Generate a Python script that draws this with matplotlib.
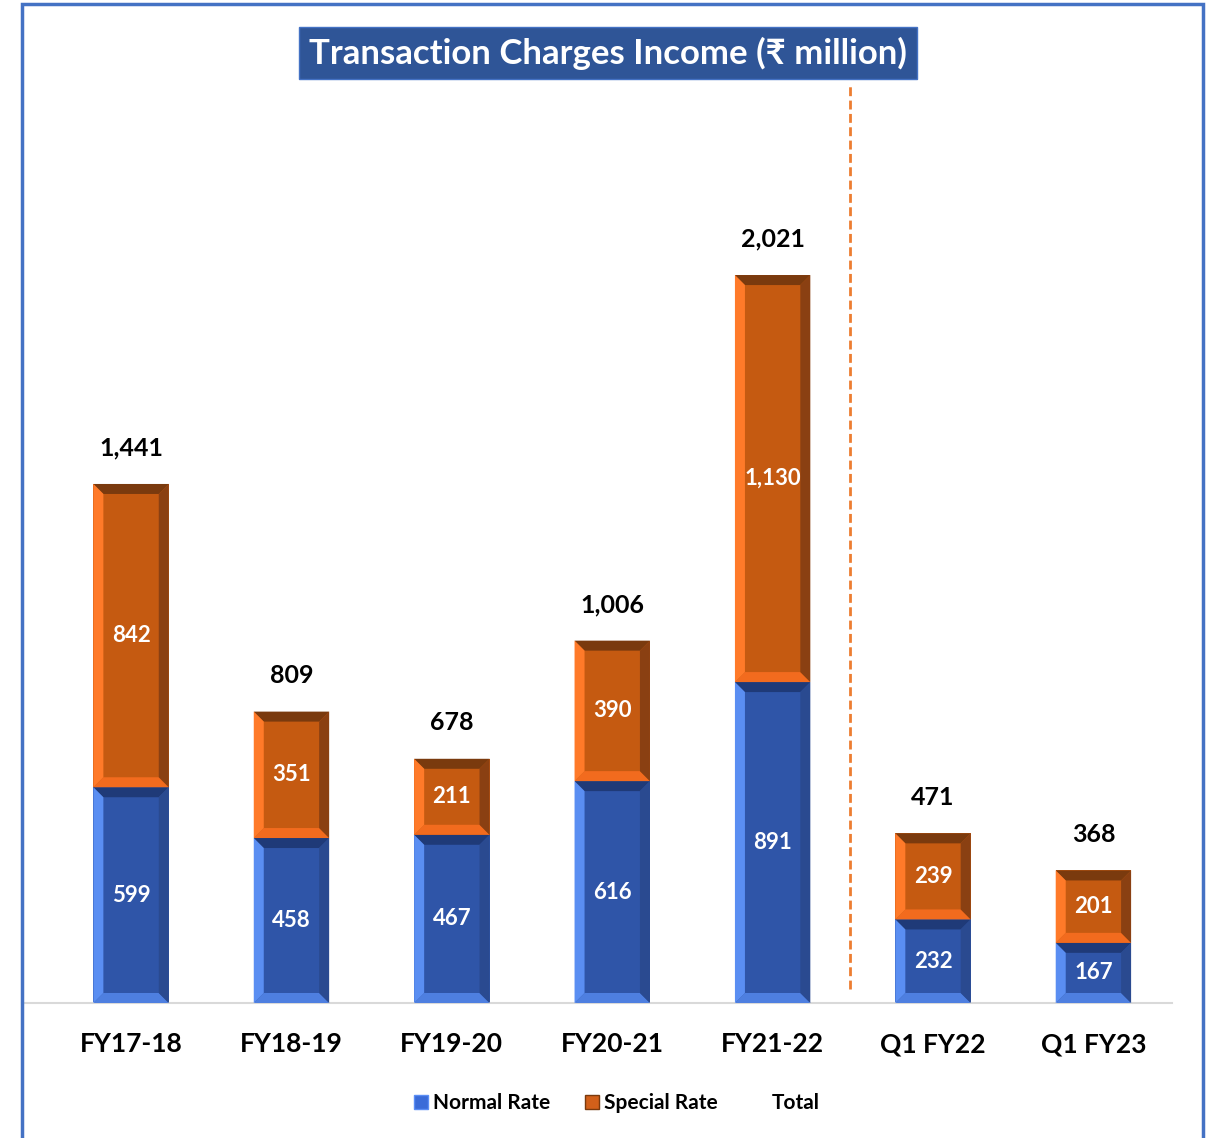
import matplotlib
matplotlib.use("Agg")
import matplotlib.pyplot as plt
from matplotlib.patches import Rectangle, Polygon, Patch
import numpy as np

plt.rcParams['font.family'] = ['Lato', 'Open Sans', 'DejaVu Sans']

categories = ["FY17-18", "FY18-19", "FY19-20", "FY20-21", "FY21-22", "Q1 FY22", "Q1 FY23"]
normal_rate = [599, 458, 467, 616, 891, 232, 167]
special_rate = [842, 351, 211, 390, 1130, 239, 201]
totals = [1441, 809, 678, 1006, 2021, 471, 368]

W, H = 1214, 1138
fig = plt.figure(figsize=(W / 100, H / 100), dpi=100)

# axes placement in pixels
ax_l, ax_r, ax_b, ax_t = 22, 1172, 1003, 100
ax = fig.add_axes([ax_l / W, 1 - ax_b / H, (ax_r - ax_l) / W, (ax_b - ax_t) / H])

x = np.arange(len(categories))
bw = 0.47
blue_main = "#2F55A8"
orange_main = "#C55A11"

bars_n = ax.bar(x, normal_rate, bw, color=blue_main, zorder=2)
bars_s = ax.bar(x, special_rate, bw, bottom=normal_rate, color=orange_main, zorder=2)

ax.set_xlim(-0.68, 6.49)
ax.set_ylim(0, 2507)
for s in ["top", "right", "left"]:
    ax.spines[s].set_visible(False)
ax.spines["bottom"].set_color("#D9D9D9")
ax.spines["bottom"].set_linewidth(1.5)
ax.set_yticks([])
ax.set_xticks(x)
ax.set_xticklabels(categories, fontsize=19, fontweight="bold")
ax.tick_params(axis="x", length=0, pad=21)

# separator
ax.plot([4.48, 4.48], [40, 2545], ls=(0, (3.2, 1.6)), color="#ED7D31", lw=2, clip_on=False, zorder=1)

# segment labels
for i in range(len(categories)):
    ax.text(x[i], normal_rate[i] / 2, f"{normal_rate[i]:,}", ha="center", va="center",
            color="white", fontsize=16, fontweight="bold", zorder=5)
    ax.text(x[i], normal_rate[i] + special_rate[i] / 2, f"{special_rate[i]:,}", ha="center", va="center",
            color="white", fontsize=16, fontweight="bold", zorder=5)
    ax.text(x[i], totals[i] + 100, f"{totals[i]:,}", ha="center", va="center",
            color="black", fontsize=18, fontweight="bold", zorder=5)

# bevel effect derived from bar geometry
fig.canvas.draw()
b = 10
def bevel(patch, top_c, left_c, right_c, bot_c):
    bb = patch.get_window_extent()
    x0, x1, y0, y1 = bb.x0, bb.x1, bb.y0, bb.y1
    polys = [
        ([(x0, y1), (x1, y1), (x1 - b, y1 - b), (x0 + b, y1 - b)], top_c),
        ([(x0, y0), (x1, y0), (x1 - b, y0 + b), (x0 + b, y0 + b)], bot_c),
        ([(x0, y0), (x0 + b, y0 + b), (x0 + b, y1 - b), (x0, y1)], left_c),
        ([(x1, y0), (x1 - b, y0 + b), (x1 - b, y1 - b), (x1, y1)], right_c),
    ]
    for pts, c in polys:
        fig.patches.append(Polygon(pts, closed=True, facecolor=c, edgecolor="none",
                                   transform=None, zorder=3))

for p in bars_n:
    bevel(p, "#1F3A78", "#5A8EF2", "#2A4A90", "#4E7FE0")
for p in bars_s:
    bevel(p, "#7A3A0E", "#FF7A29", "#8A4012", "#F26B1E")

# title box
fig.text(608 / W, 1 - 53 / H, "Transaction Charges Income (₹ million)", ha="center", va="center",
         color="white", fontsize=25, fontweight="bold",
         bbox=dict(boxstyle="square,pad=0.28", facecolor="#2F5597", edgecolor="#4472C4", lw=1))

# frame border
fig.patches.append(Rectangle((22 / W, -0.05), (1203 - 22) / W, 1.05 - 4 / H, transform=fig.transFigure,
                             fill=False, edgecolor="#4472C4", lw=2.5, zorder=10))

# legend
handles = [Patch(facecolor="#3A6BD8", edgecolor="#5B8EF5", label="Normal Rate"),
           Patch(facecolor="#D2601A", edgecolor="#7A3A0E", label="Special Rate"),
           Patch(facecolor="none", edgecolor="none", label="Total")]
fig.legend(handles=handles, loc="center", bbox_to_anchor=(617 / W, 1 - 1103 / H), ncol=3,
           frameon=False, prop=dict(size=15, weight="bold"), handlelength=0.65, handleheight=0.65,
           handletextpad=0.25, columnspacing=1.7)

fig.savefig("out.png", dpi=100)
